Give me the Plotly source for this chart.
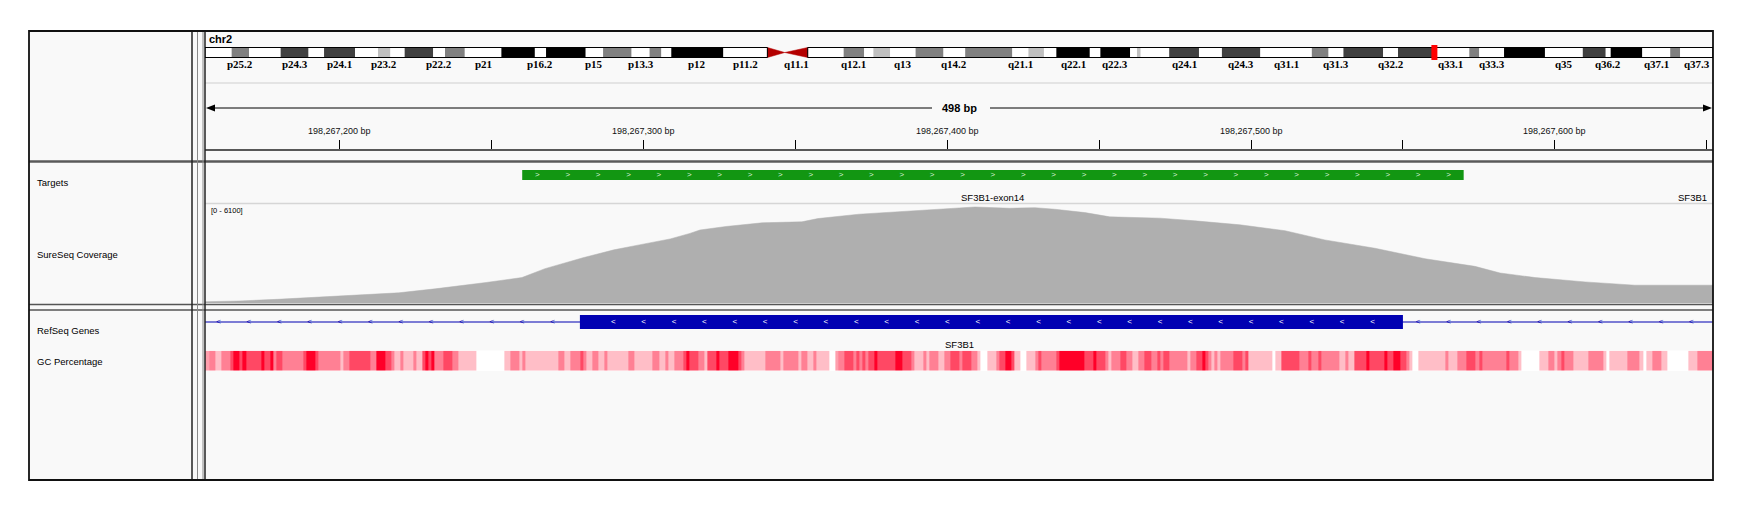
import numpy as np
import plotly.graph_objects as go

W, H = 1744, 513

# chr2 view; all track positions are offsets (bp) from base_bp
base_bp = 198267150
view_lo, view_hi = 5.55, 502.1
span_label = "498 bp"

# chr2 cytobands (Mb)
band_names = ["p25.3", "p25.2", "p25.1", "p24.3", "p24.2", "p24.1", "p23.3", "p23.2", "p23.1", "p22.3",
              "p22.2", "p22.1", "p21", "p16.3", "p16.2", "p16.1", "p15", "p14", "p13.3", "p13.2",
              "p13.1", "p12", "p11.2", "q11.2", "q12.1", "q12.2", "q12.3", "q13", "q14.1", "q14.2",
              "q14.3", "q21.1", "q21.2", "q21.3", "q22.1", "q22.2", "q22.3", "q23.1", "q23.2", "q23.3",
              "q24.1", "q24.2", "q24.3", "q31.1", "q31.2", "q31.3", "q32.1", "q32.2", "q32.3", "q33.1",
              "q33.2", "q33.3", "q34", "q35", "q36.1", "q36.2", "q36.3", "q37.1", "q37.2", "q37.3"]
band_start = [0.0, 4.3, 7.1, 12.2, 16.7, 19.2, 24.2, 27.9, 29.9, 32.2,
              36.8, 38.7, 41.9, 47.8, 53.2, 55.0, 61.4, 64.2, 68.8, 71.7,
              73.6, 75.2, 83.6, 97.2, 103.0, 106.3, 107.8, 110.5, 114.6, 119.1,
              122.6, 130.2, 132.8, 135.3, 137.3, 142.7, 144.4, 149.2, 150.3, 150.9,
              155.5, 160.3, 164.0, 170.2, 178.5, 181.2, 183.6, 190.0, 192.4, 197.9,
              203.9, 205.5, 209.5, 216.1, 222.2, 225.9, 226.7, 231.8, 236.3, 237.9]
band_end = band_start[1:] + [243.2]
band_end[22] = 90.7  # p11.2 ends at centromere
band_stain = ["gneg", "gpos50", "gneg", "gpos75", "gneg", "gpos75", "gneg", "gpos25", "gneg", "gpos75",
              "gneg", "gpos50", "gneg", "gpos100", "gneg", "gpos100", "gneg", "gpos50", "gneg", "gpos50",
              "gneg", "gpos100", "gneg", "gneg", "gpos50", "gneg", "gpos25", "gneg", "gpos50", "gneg",
              "gpos50", "gneg", "gpos25", "gneg", "gpos100", "gneg", "gpos100", "gneg", "gpos25", "gneg",
              "gpos75", "gneg", "gpos75", "gneg", "gpos50", "gneg", "gpos75", "gneg", "gpos75", "gneg",
              "gpos50", "gneg", "gpos100", "gneg", "gpos75", "gneg", "gpos100", "gneg", "gpos50", "gneg"]
cen_start, cen_mid, cen_end = 90.7, 93.5, 97.2
band_labels = ["p25.2", "p24.3", "p24.1", "p23.2", "p22.2", "p21", "p16.2", "p15", "p13.3", "p12",
               "p11.2", "q11.1", "q12.1", "q13", "q14.2", "q21.1", "q22.1", "q22.3", "q24.1", "q24.3",
               "q31.1", "q31.3", "q32.2", "q33.1", "q33.3", "q35", "q36.2", "q37.1", "q37.3"]
stain_color = {"gneg": "#FFFFFF", "gpos25": "#C0C0C0", "gpos50": "#808080",
               "gpos75": "#404040", "gpos100": "#000000"}

# features
target_start, target_end = 110, 420
target_name = "SF3B1-exon14"
exon_start, exon_end = 129, 400
gene_name = "SF3B1"

# coverage (depth), data range 0 - 6100
cov_max = 6100
cov_pos = [5.5, 16.7, 29.3, 42.8, 55.3, 69.4, 81.3, 91.5, 98.1, 109.9, 117.5, 130.0, 140.2, 148.5,
           158.7, 165.2, 168.5, 177.1, 189.0, 202.1, 207.4, 220.9, 239.3, 256.1, 259.1, 270.6,
           278.8, 285.4, 295.3, 303.5, 320.0, 331.5, 346.3, 361.2, 374.3, 390.8, 407.3, 423.7,
           432.0, 443.5, 460.0, 476.4, 492.9, 502.1]
cov_depth = [79, 122, 226, 366, 470, 628, 872, 1098, 1263, 1568, 2117, 2788, 3276, 3581,
             3947, 4288, 4496, 4715, 4941, 5002, 5203, 5472, 5673, 5874, 5917, 5838,
             5874, 5777, 5569, 5307, 5228, 5063, 4819, 4453, 3886, 3373, 2727, 2257,
             1848, 1568, 1299, 1098, 1098, 1098]

# GC percentage bins (start offset, GC %); None = no data
gc_start = [5, 7, 9, 11, 14, 15, 17, 18, 19, 24, 25, 27, 28, 29, 31, 38, 39, 42, 43, 50,
            51, 53, 60, 62, 65, 67, 68, 70, 71, 74, 75, 77, 78, 79, 80, 81, 84, 87, 89, 95,
            104, 106, 109, 110, 111, 122, 124, 126, 129, 130, 131, 133, 135, 137, 138, 145, 147, 153,
            155, 157, 158, 160, 163, 164, 165, 168, 170, 171, 174, 175, 178, 181, 182, 183, 190, 195,
            196, 201, 202, 204, 206, 207, 211, 213, 214, 216, 219, 220, 221, 222, 223, 224, 226, 227,
            233, 235, 238, 239, 242, 243, 244, 247, 249, 251, 254, 255, 258, 260, 261, 263, 266, 267,
            269, 271, 272, 274, 276, 279, 280, 281, 286, 287, 295, 298, 299, 302, 303, 304, 307, 309,
            311, 313, 315, 317, 319, 320, 321, 323, 329, 330, 332, 334, 335, 336, 337, 338, 339, 340,
            344, 347, 348, 349, 357, 358, 360, 366, 369, 370, 372, 373, 379, 381, 382, 384, 388, 389,
            394, 395, 397, 399, 401, 402, 403, 405, 414, 415, 418, 421, 424, 425, 426, 434, 435, 438,
            439, 445, 448, 450, 451, 452, 453, 456, 461, 466, 467, 468, 474, 478, 479, 480, 482, 485,
            487, 494, 497]
gc_pct = [39, 45, 33, 45, 56, 70, 56, 70, 56, 70, 56, 70, 45, 56, 45, 56, 70, 56, 45, 33,
          45, 56, 45, 70, 56, 45, 33, 45, 33, 45, 33, 56, 70, 56, 70, 45, 56, 45, 33, None,
          33, 45, 33, 45, 33, 45, 33, 45, 56, 45, 33, 45, 33, 45, 33, 45, 33, 45,
          33, 45, 33, 45, 56, 70, 56, 45, 33, 56, 70, 56, 70, 56, 45, 33, 45, 33,
          45, 33, 45, 33, 45, 33, None, 39, 45, 56, 45, 56, 45, 56, 45, 56, 70, 56,
          70, 56, 45, 33, 45, 33, 45, 33, 45, 56, 45, 56, 45, 33, None, 33, 45, 56,
          70, 56, 33, None, 33, 45, 56, 45, 56, 70, 56, 70, 56, 45, 33, 45, 56, 45,
          33, 45, 56, 45, 56, 45, 56, 45, 33, 45, 56, 70, 56, 45, 33, 45, 33, 45,
          56, 45, 56, 33, None, 33, 56, 45, 56, 45, 56, 45, 33, 45, 33, 56, 70, 56,
          70, 56, 70, 56, 45, 33, None, 33, 45, 33, 45, 56, 45, 56, 45, 56, 45, 33,
          None, 33, 45, 33, 45, 56, 45, 33, 45, 33, None, 33, 45, 33, None, 33, 45, 33,
          None, 33, 45]
gc_end = 503

track_names = ["Targets", "SureSeq Coverage", "RefSeq Genes", "GC Percentage"]
track_name_y = [183, 254, 330, 361]

OFF = 8  # page margin around the plot div


def fx(x):
    return (x - OFF) / W


def fy(y):
    return 1 - (y - OFF) / H


DL, DR = 205, 1713  # data panel pixel edges
FONT = "Liberation Sans"

fig = go.Figure()

# ideogram
fig.add_trace(go.Bar(
    x=[e - s for s, e in zip(band_start, band_end)], base=band_start,
    y=[0] * len(band_start), orientation="h", width=1.0,
    marker=dict(color=[stain_color[s] for s in band_stain], line=dict(width=0)),
    xaxis="x2", yaxis="y", hoverinfo="skip", showlegend=False))
fig.add_trace(go.Scatter(
    x=[cen_start, cen_start, cen_mid, cen_start, None, cen_mid, cen_end, cen_end, cen_mid],
    y=[-0.5, 0.5, 0, -0.5, None, 0, 0.5, -0.5, 0],
    fill="toself", fillcolor="#B40000", line=dict(color="#B40000", width=0.5),
    mode="lines", xaxis="x2", yaxis="y", hoverinfo="skip", showlegend=False))

# targets
fig.add_trace(go.Bar(
    x=[target_end - target_start], base=[base_bp + target_start], y=[0], orientation="h", width=1.0,
    marker=dict(color="rgb(18,150,18)", line=dict(width=0)),
    xaxis="x", yaxis="y2", hoverinfo="skip", showlegend=False))
chev_t = np.arange(target_start + 5, target_end, 10)
fig.add_trace(go.Scatter(
    x=base_bp + chev_t, y=[0] * len(chev_t), mode="text", text=[">"] * len(chev_t),
    textfont=dict(family=FONT, size=8, color="#D8F0D8"),
    xaxis="x", yaxis="y2", hoverinfo="skip", showlegend=False))

# coverage
fig.add_trace(go.Scatter(
    x=[base_bp + p for p in cov_pos], y=cov_depth, mode="lines", fill="tozeroy",
    fillcolor="#AFAFAF", line=dict(color="#AFAFAF", width=0.5),
    xaxis="x", yaxis="y3", hoverinfo="skip", showlegend=False))

# gene
fig.add_trace(go.Scatter(
    x=[base_bp + view_lo, base_bp + view_hi], y=[0, 0], mode="lines",
    line=dict(color="rgb(0,0,178)", width=1.2),
    xaxis="x", yaxis="y4", hoverinfo="skip", showlegend=False))
fig.add_trace(go.Bar(
    x=[exon_end - exon_start], base=[base_bp + exon_start], y=[0], orientation="h", width=1.4,
    marker=dict(color="rgb(0,0,178)", line=dict(width=0)),
    xaxis="x", yaxis="y4", hoverinfo="skip", showlegend=False))
chev_i = np.concatenate([np.arange(10, exon_start - 5, 10), np.arange(exon_end + 5, view_hi, 10)])
fig.add_trace(go.Scatter(
    x=base_bp + chev_i, y=[0] * len(chev_i), mode="text", text=["<"] * len(chev_i),
    textfont=dict(family=FONT, size=8, color="rgb(0,0,178)"),
    xaxis="x", yaxis="y4", hoverinfo="skip", showlegend=False))
chev_e = np.arange(exon_start + 11, exon_end, 10)
fig.add_trace(go.Scatter(
    x=base_bp + chev_e, y=[0] * len(chev_e), mode="text", text=["<"] * len(chev_e),
    textfont=dict(family=FONT, size=8, color="#FFFFFF"),
    xaxis="x", yaxis="y4", hoverinfo="skip", showlegend=False))

# GC percentage
fig.add_trace(go.Heatmap(
    x=[base_bp + s for s in gc_start] + [base_bp + gc_end], y=[0], z=[gc_pct],
    zmin=30, zmax=70, colorscale=[[0, "rgb(255,205,212)"], [1, "rgb(255,0,40)"]],
    showscale=False, hoverinfo="skip", xaxis="x", yaxis="y5"))

# ---- layout shapes (panels, borders)
shapes = [
    dict(type="rect", xref="paper", yref="paper", x0=fx(29), x1=fx(DR), y0=fy(480), y1=fy(31),
         fillcolor="#F9F9F9", line=dict(width=0), layer="below"),
    dict(type="rect", xref="paper", yref="paper", x0=fx(DL), x1=fx(DR), y0=fy(371), y1=fy(350.5),
         fillcolor="#FFFFFF", line=dict(width=0), layer="below"),
]


def hline(y, x0, x1, color, w):
    shapes.append(dict(type="line", xref="paper", yref="paper", x0=fx(x0), x1=fx(x1),
                       y0=fy(y), y1=fy(y), line=dict(color=color, width=w)))


def vline(x, y0, y1, color, w):
    shapes.append(dict(type="line", xref="paper", yref="paper", x0=fx(x), x1=fx(x),
                       y0=fy(y0), y1=fy(y1), line=dict(color=color, width=w)))


hline(83, DL, DR, "#DCDCDC", 1.5)
hline(150, DL, DR, "#222222", 1.5)
hline(161.5, 29, DR, "#5A5A5A", 2.5)
hline(203.5, DL, DR, "#D6D6D6", 1.5)
hline(304.5, 29, DR, "#555555", 1.5)
hline(310, 29, DR, "#555555", 1.5)
vline(192, 31, 480, "#222222", 1.5)
vline(197.5, 31, 480, "#8A8A8A", 1)
vline(203, 31, 480, "#8A8A8A", 1)
vline(DL, 31, 480, "#222222", 1.5)
shapes.append(dict(type="rect", xref="paper", yref="paper", x0=fx(29), x1=fx(DR), y0=fy(480), y1=fy(31),
                   line=dict(color="#111111", width=1.8)))

# ruler line with arrows and a gap for the span text
hline(108, DL + 8, 932, "#000000", 1)
hline(108, 990, DR - 8, "#000000", 1)
shapes.append(dict(type="path", xref="paper", yref="paper", fillcolor="#000000", line=dict(width=0),
                   path=f"M {fx(DL + 1)} {fy(108)} L {fx(DL + 10)} {fy(104.5)} L {fx(DL + 10)} {fy(111.5)} Z"))
shapes.append(dict(type="path", xref="paper", yref="paper", fillcolor="#000000", line=dict(width=0),
                   path=f"M {fx(DR - 1)} {fy(108)} L {fx(DR - 10)} {fy(104.5)} L {fx(DR - 10)} {fy(111.5)} Z"))

# ideogram outlines and current-locus marker
shapes.append(dict(type="rect", xref="x2", yref="y", x0=0, x1=cen_start, y0=-0.5, y1=0.5,
                   line=dict(color="#000000", width=1)))
shapes.append(dict(type="rect", xref="x2", yref="y", x0=cen_end, x1=243.2, y0=-0.5, y1=0.5,
                   line=dict(color="#000000", width=1)))
shapes.append(dict(type="rect", xref="x2", yref="y", xsizemode="pixel",
                   xanchor=(base_bp + (view_lo + view_hi) / 2) / 1e6, x0=-3, x1=3, y0=-0.75, y1=0.75,
                   fillcolor="#FF0000", line=dict(width=0)))

# ---- annotations
ann = []


def text(x, y, s, size=9.5, bold=False, xanchor="left", xref="paper", family=FONT, color="#000000"):
    ann.append(dict(x=x, y=y, xref=xref, yref="paper", text=f"<b>{s}</b>" if bold else s,
                    showarrow=False, xanchor=xanchor, yanchor="middle",
                    font=dict(family=family, size=size, color=color)))


text(fx(207), fy(39.5), "chr2", size=11, bold=True)
text(fx(960), fy(108), span_label, size=11, bold=True, xanchor="center")
for name in band_labels:
    if name == "q11.1":
        xc = (cen_mid + cen_end) / 2
    else:
        i = band_names.index(name)
        xc = (band_start[i] + band_end[i]) / 2
    text(xc, fy(64), name, size=11, bold=True, xanchor="center", xref="x2", family="Liberation Serif")
for name, y in zip(track_names, track_name_y):
    text(fx(35), fy(y), name, size=9.5)
text(base_bp + (target_start + target_end) / 2, fy(197), target_name, size=9.5, xanchor="center", xref="x")
text(base_bp + 490, fy(197), gene_name, size=9.5, xref="x")
text(fx(209), fy(210), f"[0 - {cov_max}]", size=7.5)
text(base_bp + (view_lo + view_hi) / 2, fy(344), gene_name, size=9.5, xanchor="center", xref="x")

ticks = np.arange(base_bp + 50, base_bp + view_hi, 50)
for t in ticks:
    if int(t) % 100 == 0:
        text(t, fy(131), f"{int(t):,} bp", size=9, xanchor="center", xref="x", color="#111111")

hidden = dict(visible=False, fixedrange=True)
fig.update_layout(
    width=W, height=H, margin=dict(l=0, r=0, t=0, b=0), autosize=False,
    paper_bgcolor="#FFFFFF", plot_bgcolor="rgba(0,0,0,0)", barmode="overlay",
    xaxis=dict(domain=[fx(DL), fx(DR)], range=[base_bp + view_lo, base_bp + view_hi],
               anchor="free", position=fy(149), side="top", showgrid=False, zeroline=False,
               showline=False, ticks="outside", ticklen=9, tickwidth=1, tickcolor="#000000",
               tickvals=ticks, showticklabels=False, fixedrange=True),
    xaxis2=dict(domain=[fx(DL), fx(DR)], range=[0, 243.2], anchor="y", **hidden),
    yaxis=dict(domain=[fy(60), fy(45)], range=[-0.75, 0.75], anchor="x2", **hidden),
    yaxis2=dict(domain=[fy(185), fy(165)], range=[-1, 1], anchor="x", **hidden),
    yaxis3=dict(domain=[fy(303), fy(204)], range=[0, cov_max], anchor="x", **hidden),
    yaxis4=dict(domain=[fy(332), fy(312)], range=[-1, 1], anchor="x", **hidden),
    yaxis5=dict(domain=[fy(370.7), fy(350.7)], range=[-0.5, 0.5], anchor="x", **hidden),
    shapes=shapes, annotations=ann,
)

fig.write_html("out.html")
